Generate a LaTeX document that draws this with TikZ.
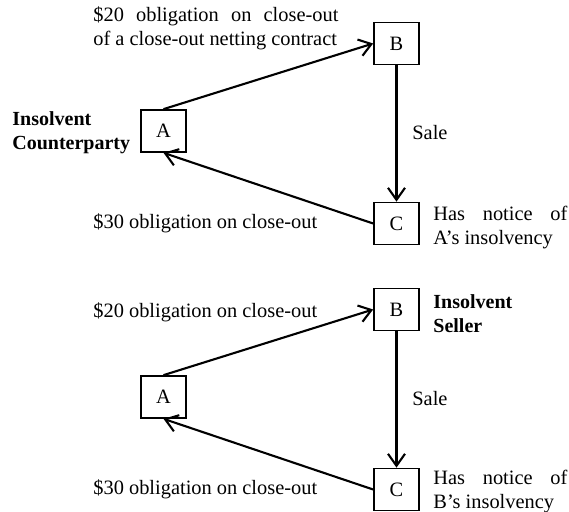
\documentclass[tikz,border=0pt]{standalone}
\usepackage{fontspec}
\setmainfont{Liberation Serif}
\usetikzlibrary{positioning, arrows.meta}
\tikzset{
	party/.style={draw, line width=0.85pt, minimum width=22.5pt, minimum height=21pt, inner sep=0pt},
	flow/.style={-{Straight Barb[length=6pt,width=8.5pt]}, line width=1.05pt},
	txt/.style={inner sep=0pt, anchor=base west},
	notetxt/.style={txt, text width=#1, align=justify},
}

\begin{document}
\begin{tikzpicture}[x=0.5pt, y=-0.5pt, font=\fontsize{10.2}{12}\selectfont]
		\useasboundingbox (0,0) rectangle (569,512);

		% insolvent counterparty
		\node[party] (A1) at (163.5,131) {A};
		\node[party] (B1) at (396.5,43.5) {B};
		\node[party] (C1) at (396.5,223.5) {C};

		\node[notetxt=122.5pt] (owe20a) at (93,22) {\$20 obligation on close-out\linebreak of a close-out netting contract};
		\node[txt, align=left, font=\bfseries] (insA) at (12,150) {Insolvent\\Counterparty};
		\node[txt] (sale1) at (412,140) {Sale};
		\node[txt] (owe30a) at (93,229) {\$30 obligation on close-out};
		\node[notetxt=67pt] (noticeA) at (433,221) {Has notice of\linebreak A’s insolvency};

		\draw[flow] (A1.north) -- (B1.west);
		\draw[flow] (B1) -- (C1);
		\draw[flow] (C1.west) -- (A1.south);

		% insolvent seller
		\node[party] (A2) at (163.5,397) {A};
		\node[party] (B2) at (396.5,309.5) {B};
		\node[party] (C2) at (396.5,489.5) {C};

		\node[txt] (owe20b) at (93,318) {\$20 obligation on close-out};
		\node[txt, align=left, font=\bfseries] (insB) at (433,333) {Insolvent\\Seller};
		\node[txt] (sale2) at (412,406) {Sale};
		\node[txt] (owe30b) at (93,495) {\$30 obligation on close-out};
		\node[notetxt=67pt] (noticeB) at (433,485) {Has notice of\linebreak B’s insolvency};

		\draw[flow] (A2.north) -- (B2.west);
		\draw[flow] (B2) -- (C2);
		\draw[flow] (C2.west) -- (A2.south);
	\end{tikzpicture}
\end{document}
